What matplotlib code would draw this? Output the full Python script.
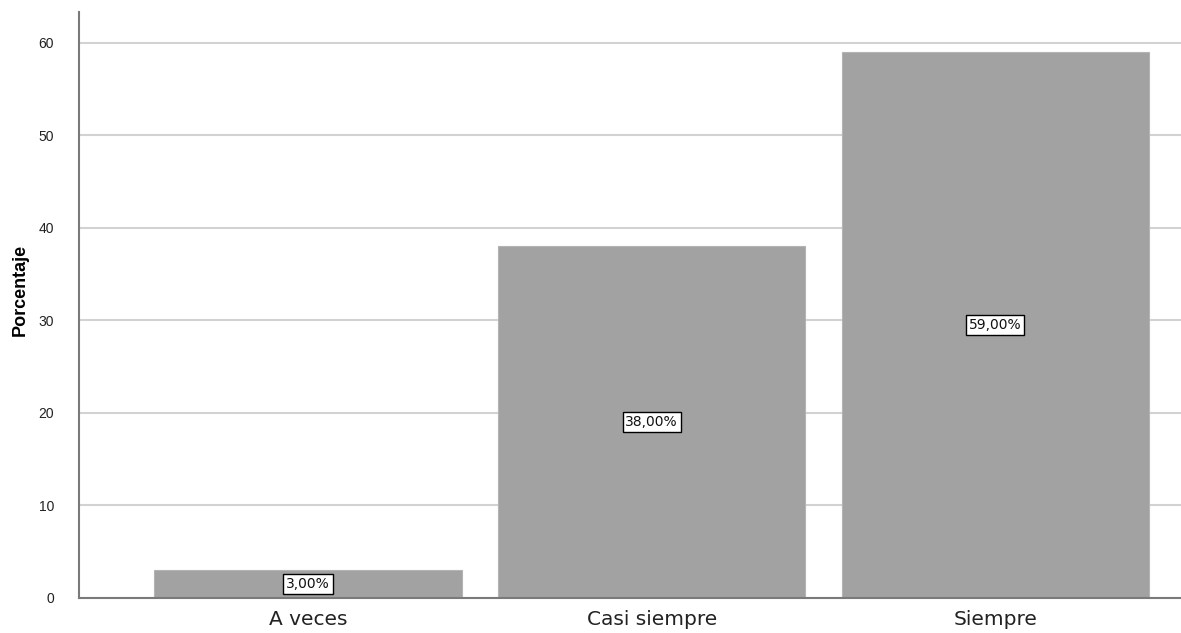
import matplotlib
matplotlib.use("Agg")
import matplotlib.pyplot as plt

categorias = ["A veces", "Casi siempre", "Siempre"]
porcentajes = [3.0, 38.0, 59.0]
etiquetas = ["3,00%", "38,00%", "59,00%"]

plt.rcParams['font.family'] = ['Liberation Sans', 'DejaVu Sans']

fig = plt.figure(figsize=(11.81, 6.33), dpi=100)
ax = fig.add_axes([0.0669, 0.0553, 0.9331, 0.925])

x = range(len(categorias))
ax.bar(x, porcentajes, width=0.895, color='#a2a2a2', edgecolor='#b4b4b4',
       linewidth=0.8, zorder=2)

# etiquetas de valor en el centro de cada barra
for xi, v, t in zip(x, porcentajes, etiquetas):
    ax.text(xi, v / 2, t, ha='center', va='center', fontsize=10, color='#111111',
            family='DejaVu Sans',
            bbox=dict(boxstyle='square,pad=0.2', fc='white', ec='black', lw=1.0),
            zorder=3)

ax.set_xlim(-0.666, 2.54)
ax.set_ylim(0, 63.3)
ax.set_yticks([0, 10, 20, 30, 40, 50, 60])
ax.set_xticks(list(x))
ax.set_xticklabels(categorias, fontsize=14.5, color='#222222', family='DejaVu Sans')
ax.tick_params(axis='y', labelsize=10, colors='#222222', length=0, pad=18)
ax.tick_params(axis='x', length=0, pad=9)
ax.set_ylabel('Porcentaje', fontsize=13, fontweight='bold', labelpad=7, y=0.526)

ax.grid(axis='y', color='#d2d2d2', linewidth=1.5, zorder=0)
ax.set_axisbelow(True)
for s in ['top', 'right']:
    ax.spines[s].set_visible(False)
for s in ['left', 'bottom']:
    ax.spines[s].set_color('#7a7a7a')
    ax.spines[s].set_linewidth(1.5)

fig.savefig('out.png', dpi=100)
